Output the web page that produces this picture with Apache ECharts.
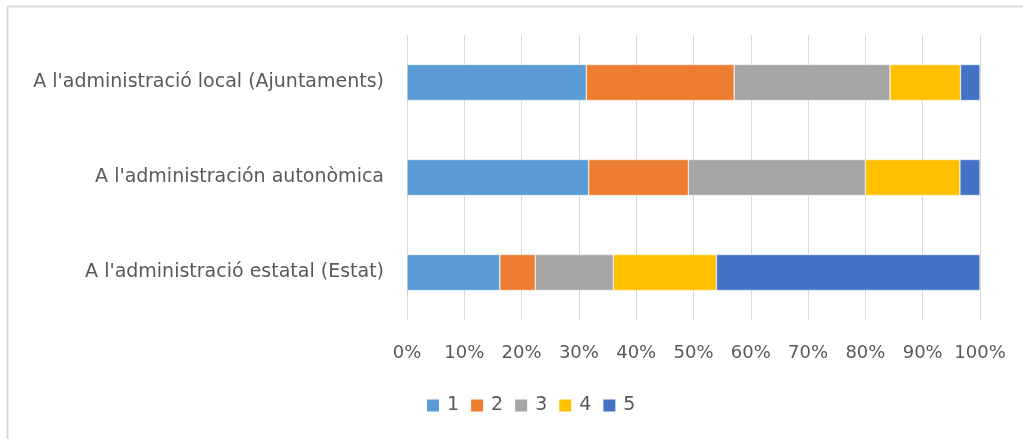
<!DOCTYPE html>
<html>
<head>
<meta charset="utf-8">
<script src="https://cdn.jsdelivr.net/npm/echarts@6/dist/echarts.min.js"></script>
<style>
  html, body { margin: 0; padding: 0; background: #fff; }
  #chart { width: 1023px; height: 439px; }
</style>
</head>
<body>
<div id="chart"></div>
<script>
(function(){
  // categorias de abajo hacia arriba (como en el eje de Excel)
  const categories = [
    "A l'administració estatal (Estat)",
    "A l'administración autonòmica",
    "A l'administració local (Ajuntaments)"
  ];
  const seriesNames = ["1", "2", "3", "4", "5"];
  const colors = ["#5b9bd5", "#ed7d31", "#a5a5a5", "#ffc000", "#4472c4"];

  // porcentajes (estatal, autonomica, local)
  const s1 = [16.2, 31.7, 31.3];
  const s2 = [6.2, 17.4, 25.8];
  const s3 = [13.6, 30.9, 27.2];
  const s4 = [18.0, 16.5, 12.3];
  const s5 = [46.0, 3.5, 3.4];
  const values = [s1, s2, s3, s4, s5];

  const font = "'DejaVu Sans', sans-serif";
  const chart = echarts.init(document.getElementById("chart"));

  const series = seriesNames.map((name, i) => ({
    name: name,
    type: "bar",
    stack: "total",
    barWidth: 36,
    data: values[i],
    itemStyle: { color: colors[i], borderColor: "#ffffff", borderWidth: 0.5 }
  }));

  chart.setOption({
    animation: false,
    textStyle: { fontFamily: font },
    grid: { left: 407, right: 43, top: 35, bottom: 119 },
    xAxis: {
      type: "value",
      min: 0, max: 100, interval: 10,
      axisLine: { show: false },
      axisTick: { show: false },
      splitLine: { lineStyle: { color: "#d9d9d9", width: 1 } },
      axisLabel: { formatter: "{value}%", color: "#595959", fontSize: 18, margin: 24, fontFamily: font }
    },
    yAxis: {
      type: "category",
      data: categories,
      axisLine: { show: false },
      axisTick: { show: false },
      axisLabel: { color: "#595959", fontSize: 19, margin: 23, fontFamily: font }
    },
    legend: {
      bottom: 19,
      left: 420,
      itemWidth: 14,
      itemHeight: 14,
      itemGap: 10,
      icon: "rect",
      textStyle: { color: "#595959", fontSize: 19, fontFamily: font, padding: [0, 0, 0, 2] },
      data: seriesNames
    },
    graphic: [
      { type: "line", shape: { x1: 7.5, y1: 6.5, x2: 1023, y2: 6.5 }, style: { stroke: "#d9d9d9", lineWidth: 2 } },
      { type: "line", shape: { x1: 7.5, y1: 6.5, x2: 7.5, y2: 439 }, style: { stroke: "#d9d9d9", lineWidth: 2 } }
    ],
    series: series
  });

  window.addEventListener("resize", () => chart.resize());
})();
</script>
</body>
</html>
